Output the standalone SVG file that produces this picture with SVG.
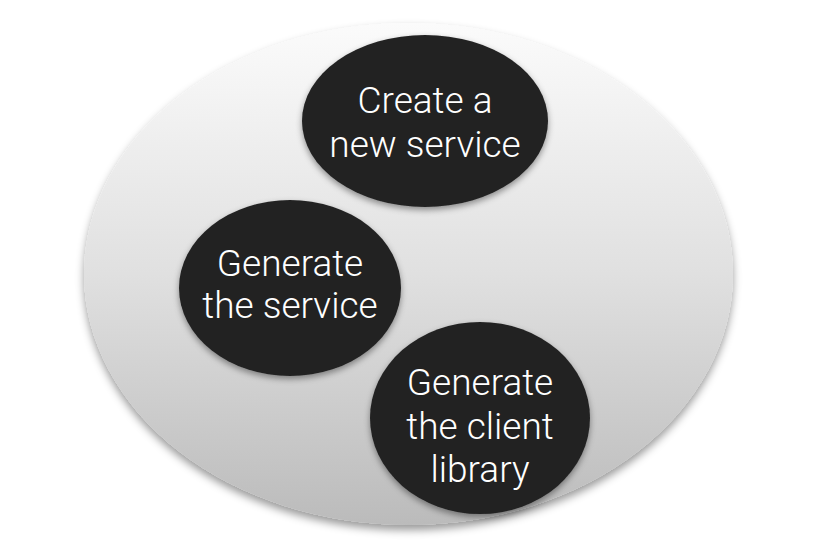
<svg xmlns="http://www.w3.org/2000/svg" width="814" height="550" viewBox="0 0 814 550">
<defs>
<linearGradient id="bg" x1="0" y1="0" x2="0" y2="1">
<stop offset="0" stop-color="#fbfbfb"/>
<stop offset="0.5" stop-color="#e0e0e0"/>
<stop offset="1" stop-color="#bbbbbb"/>
</linearGradient>
<filter id="sh" x="-10%" y="-10%" width="120%" height="125%">
<feDropShadow dx="0" dy="5" stdDeviation="4" flood-color="#000" flood-opacity="0.4"/>
</filter>
<filter id="sh2" x="-10%" y="-10%" width="120%" height="125%">
<feDropShadow dx="0" dy="3" stdDeviation="3" flood-color="#000" flood-opacity="0.4"/>
</filter>
</defs>
<style>
.node{fill:#222222;filter:url(#sh2)}
.lbl{fill:#ffffff;font-family:Roboto,"Liberation Sans",Arial,sans-serif;font-weight:300;font-size:37px;text-anchor:middle}
</style>
<rect width="814" height="550" fill="#ffffff"/>
<g id="container">
<ellipse cx="408.5" cy="274" rx="324.5" ry="251" fill="url(#bg)" filter="url(#sh)"/>
</g>
<g id="connectors"/>
<g id="create">
<ellipse class="node" cx="425" cy="121" rx="123" ry="86"/>
<text class="lbl" x="425" y="113">Create a</text>
<text class="lbl" x="425" y="157">new service</text>
</g>
<g id="generate-service">
<ellipse class="node" cx="290" cy="288" rx="111" ry="88"/>
<text class="lbl" x="290" y="276">Generate</text>
<text class="lbl" x="290" y="318">the service</text>
</g>
<g id="generate-client">
<ellipse class="node" cx="480" cy="418" rx="110" ry="96"/>
<text class="lbl" x="480" y="395">Generate</text>
<text class="lbl" x="480" y="439">the client</text>
<text class="lbl" x="480" y="482">library</text>
</g>
</svg>
